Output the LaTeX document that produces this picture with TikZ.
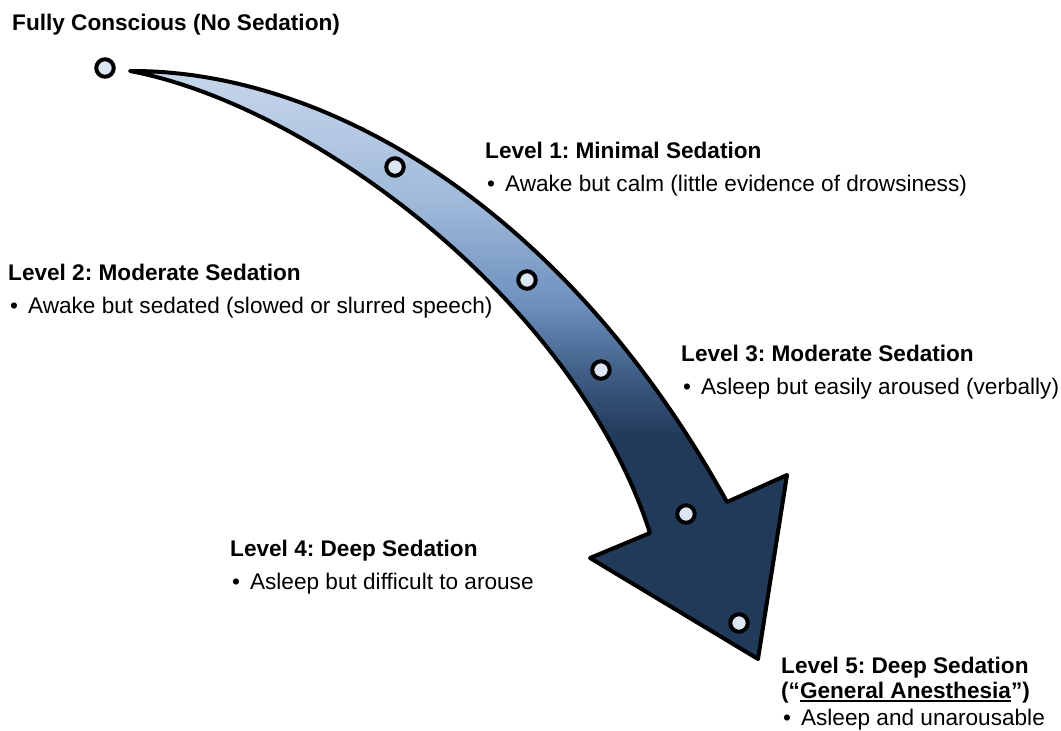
\documentclass[tikz,border=0pt]{standalone}
\usepackage{fontspec}
\setmainfont{Liberation Sans}
\frenchspacing

% Colores de la flecha
\definecolor{flechaclara}{RGB}{199,214,235}
\definecolor{flechaceleste}{RGB}{160,186,218}
\definecolor{flechamedia}{RGB}{108,143,189}
\definecolor{flechamedia2}{RGB}{62,92,132}
\definecolor{flechaoscura}{RGB}{34,58,90}
\definecolor{puntofondo}{RGB}{220,230,242}

\pgfdeclareverticalshading{flechasombra}{100bp}{color(0bp)=(flechaoscura); color(44bp)=(flechaoscura); color(49bp)=(flechamedia2); color(55bp)=(flechamedia); color(64bp)=(flechaceleste); color(75bp)=(flechaclara); color(100bp)=(flechaclara)}

% Subrayado grueso
\newcommand{\subrayado}[1]{\setbox0\hbox{#1}\rlap{\rule[-3.8pt]{\wd0}{1.8pt}}\box0}

\tikzset{
  nivel/.style={anchor=base west, inner sep=0pt, font=\fontsize{22.6}{26}\selectfont\bfseries},
  detalle/.style={anchor=base west, inner sep=0pt, font=\fontsize{22.6}{26}\selectfont},
  punto/.style={circle, draw=black, line width=4pt, fill=puntofondo, minimum size=17.5pt, inner sep=0pt}
}

\begin{document}
\begin{tikzpicture}[x=1pt, y=-1pt]

    \useasboundingbox (0,0) rectangle (1061,731);

    % Puntos de la flecha
    \coordinate (cola) at (130,71);
    \coordinate (hombro der) at (727,502);
    \coordinate (barba der) at (787,475);
    \coordinate (punta) at (758,659);
    \coordinate (barba izq) at (590,558);
    \coordinate (hombro izq) at (650,533);

    % Dibujamos la flecha curva
    \draw[line width=4pt, line join=round, shading=flechasombra]
        (cola) .. controls (320,70) and (560,200) .. (hombro der)
        -- (barba der) -- (punta) -- (barba izq) -- (hombro izq)
        .. controls (575,300) and (310,105) .. (cola) -- cycle;

    % Marcamos los niveles
    \foreach \i/\x/\y in {0/105/68, 1/395/167, 2/527/280, 3/601/370, 4/686/514, 5/739/623}
        \node[punto] (p\i) at (\x,\y) {};

    % Nombramos los niveles
    \node[nivel] (n0) at (12,30) {Fully Conscious (No Sedation)};

    \node[nivel] (n1) at (485,158) {Level 1: Minimal Sedation};
    \node[detalle] (d1) at (487,191) {•\hspace{10pt}Awake but calm (little evidence of drowsiness)};

    \node[nivel] (n2) at (8,280) {Level 2: Moderate Sedation};
    \node[detalle] (d2) at (10,313) {•\hspace{10pt}Awake but sedated (slowed or slurred speech)};

    \node[nivel] (n3) at (681,361) {Level 3: Moderate Sedation};
    \node[detalle] (d3) at (683,394) {•\hspace{10pt}Asleep but easily aroused (verbally)};

    \node[nivel] (n4) at (230,556) {Level 4: Deep Sedation};
    \node[detalle] (d4) at (232,589) {•\hspace{10pt}Asleep but difficult to arouse};

    \node[nivel] (n5) at (781,673) {Level 5: Deep Sedation};
    \node[nivel] (n5b) at (781,698) {(“\subrayado{General Anesthesia}”)};
    \node[detalle] (d5) at (783,725) {•\hspace{10pt}Asleep and unarousable};

\end{tikzpicture}
\end{document}
